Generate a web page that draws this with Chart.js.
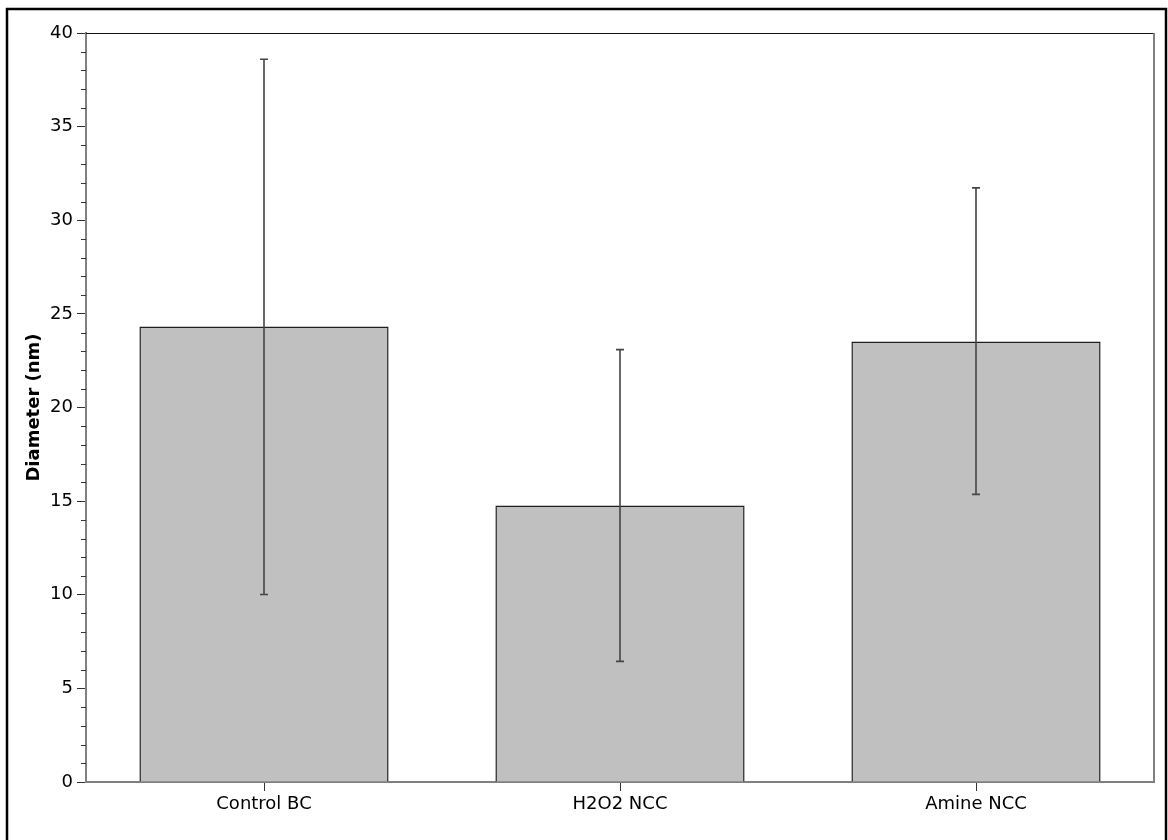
<!DOCTYPE html>
<html>
<head>
<meta charset="utf-8">
<script src="https://cdn.jsdelivr.net/npm/chart.js@4/dist/chart.umd.min.js"></script>
<style>
  html, body { margin: 0; padding: 0; background: #fff; overflow: hidden; }
  canvas { display: block; }
</style>
</head>
<body>
<canvas id="chart" width="1168" height="840"></canvas>
<script>
// data
const categories = ['Control BC', 'H2O2 NCC', 'Amine NCC'];
const meanDiameter = [24.32, 14.76, 23.53];
const errUpper = [38.6, 23.09, 31.73];
const errLower = [10.01, 6.44, 15.36];
const yTicks = [0, 5, 10, 15, 20, 25, 30, 35, 40];

const FONT = 'DejaVu Sans';

// error bars, minor ticks and the frame around the plot
const extras = {
    id: 'extras',
    afterDatasetsDraw(chart) {
        const ctx = chart.ctx;
        const x = chart.scales.x;
        const y = chart.scales.y;
        ctx.save();
        ctx.strokeStyle = '#454545';
        ctx.lineWidth = 1.6;
        categories.forEach((c, i) => {
            const cx = x.getPixelForValue(i);
            const top = y.getPixelForValue(errUpper[i]);
            const bot = y.getPixelForValue(errLower[i]);
            ctx.beginPath();
            ctx.moveTo(cx, top);
            ctx.lineTo(cx, bot);
            ctx.moveTo(cx - 4, top);
            ctx.lineTo(cx + 4, top);
            ctx.moveTo(cx - 4, bot);
            ctx.lineTo(cx + 4, bot);
            ctx.stroke();
        });
        ctx.restore();
    },
    afterDraw(chart) {
        const ctx = chart.ctx;
        const a = chart.chartArea;
        const y = chart.scales.y;
        ctx.save();
        // minor ticks
        ctx.strokeStyle = '#333';
        ctx.lineWidth = 1;
        for (let v = 0; v <= 40; v++) {
            if (v % 5 === 0) continue;
            const py = Math.round(y.getPixelForValue(v)) + 0.5;
            ctx.beginPath();
            ctx.moveTo(a.left - 5, py);
            ctx.lineTo(a.left, py);
            ctx.stroke();
        }
        // top and right frame
        ctx.strokeStyle = '#111';
        ctx.lineWidth = 1.2;
        ctx.beginPath();
        ctx.moveTo(a.left, a.top + 0.5);
        ctx.lineTo(a.right, a.top + 0.5);
        ctx.stroke();
        ctx.strokeStyle = '#808080';
        ctx.lineWidth = 2;
        ctx.beginPath();
        ctx.moveTo(a.right, a.top);
        ctx.lineTo(a.right, a.bottom);
        ctx.stroke();
        // outer border of the figure
        ctx.strokeStyle = '#000';
        ctx.lineWidth = 2.5;
        ctx.strokeRect(7, 9, 1159, 840);
        ctx.restore();
    }
};

const ctx = document.getElementById('chart').getContext('2d');
new Chart(ctx, {
    type: 'bar',
    data: {
        labels: categories,
        datasets: [{
            label: 'Diameter (nm)',
            data: meanDiameter,
            backgroundColor: '#c0c0c0',
            borderColor: '#1e1e1e',
            borderWidth: 1.5,
            categoryPercentage: 0.7,
            barPercentage: 1.0
        }]
    },
    options: {
        responsive: false,
        animation: false,
        layout: { padding: { left: 0, right: 14, top: 33, bottom: 0 } },
        plugins: {
            legend: { display: false },
            tooltip: { enabled: false }
        },
        scales: {
            x: {
                offset: true,
                grid: { drawOnChartArea: false, offset: false, tickLength: 9, color: '#333' },
                border: { color: '#808080', width: 2 },
                ticks: { color: '#000', padding: 3, font: { family: FONT, size: 18 } },
                afterFit: s => { s.height = 58; }
            },
            y: {
                min: 0,
                max: 40,
                afterBuildTicks: s => { s.ticks = yTicks.map(v => ({ value: v })); },
                grid: { drawOnChartArea: false, tickLength: 9, color: '#333' },
                border: { color: '#808080', width: 2 },
                ticks: { color: '#000', padding: 4, font: { family: FONT, size: 18 } },
                title: {
                    display: true,
                    text: 'Diameter (nm)',
                    color: '#000',
                    padding: { top: 24, bottom: 0 },
                    font: { family: FONT, size: 18, weight: 'bold' }
                },
                afterFit: s => { s.width = 86; }
            }
        }
    },
    plugins: [extras]
});
</script>
</body>
</html>
